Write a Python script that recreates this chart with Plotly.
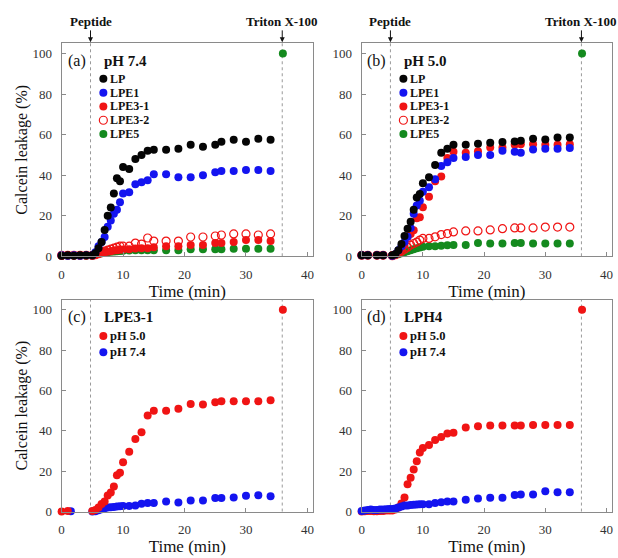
import plotly.graph_objects as go
from plotly.subplots import make_subplots

W, H = 618, 558
FONT = "Liberation Serif"

# ---------------- data ----------------
t_main = [5, 5.5, 6, 6.5, 7, 7.5, 8, 8.5, 9, 9.5, 10, 11, 12, 13, 14, 15,
          17, 19, 21, 23, 25, 26, 28, 30, 32, 34]
t_pre_a = [0, 1, 2, 3, 4]
t_pre_b = [0, 1, 2.5, 3.5]
t_pre_d = [0, 0.5, 1, 1.5, 2, 2.5, 3, 3.5, 4, 4.5]
t_triton = 36
triton_value = 100

# (a) pH 7.4
a_LP_pre = [0.3, 0.5, 0.3, 0.5, 0.5]
a_LP = [0.5, 1.5, 4, 7, 13, 20, 24, 31, 38.5, 37, 44, 43, 48, 50, 52, 52.5,
        52.5, 53, 55, 54, 55, 56.5, 57.5, 56.5, 58, 57.5]
a_LPE1_pre = [0.5, 0.3, 0.5, 0.3, 0.5]
a_LPE1 = [0.5, 2, 5, 7, 9.5, 14.5, 17.7, 21, 23, 26.6, 31, 31.6, 35.5, 36.5, 37.5, 40.5,
          40.5, 39, 39, 40, 41.5, 42, 42, 42.5, 42.5, 42]
a_LPE31_pre = [0.3, 0.5, 0.5, 0.3, 0.5]
a_LPE31 = [0.3, 0.5, 1, 1.5, 2, 2.2, 2.5, 2.8, 3, 3.2, 3.4, 3.5, 3.8, 4, 4, 4.5,
           5, 5, 5.5, 5.5, 6.5, 6.5, 7, 8, 8, 7.5]
a_LPE32_pre = [0.5, 0.5, 0.5, 0.5, 0.5]
a_LPE32 = [0.5, 1, 1.5, 2, 2.5, 3, 3.5, 4, 4.5, 5, 5, 5, 6.5, 6, 9, 7.5,
           7.5, 7.5, 9.5, 9.5, 10, 10.5, 11, 11, 10.5, 11]
a_LPE5_pre = [0.3, 0.3, 0.5, 0.3, 0.3]
a_LPE5 = [0.3, 0.8, 1.2, 1.5, 1.8, 2, 2.2, 2.3, 2.5, 2.6, 2.7, 2.8, 3, 3, 3, 3,
          3, 3, 3.5, 3.5, 3.5, 3.5, 3.7, 3.7, 3.7, 3.7]

# (b) pH 5.0
b_pre = [0.5, 0.5, 0.5, 0.5]
b_LP = [0.5, 1, 3, 6, 10, 13.6, 17, 23, 29, 30.7, 36, 39, 45, 51, 53, 55,
        55, 55.5, 56, 56.3, 56.6, 57, 58, 57.6, 58.6, 58.6]
b_LPE1 = [0.3, 1, 3, 5, 7, 9.6, 14, 21, 25, 27.4, 31.8, 34, 38, 44.5, 46.4, 48.5,
          49, 50, 50, 52, 51.5, 51, 52.6, 53, 53, 53.4]
b_LPE31 = [0.3, 0.8, 2, 3.5, 5.5, 9.6, 11, 12.8, 18.8, 19.3, 24.2, 29.4, 37, 39.3, 48.5, 51.5,
           51, 51.8, 53.7, 53.7, 55, 55.3, 55.3, 55, 55, 55.3]
b_LPE32 = [0.3, 0.8, 1.5, 2.5, 3.5, 4.5, 5.5, 6.3, 7, 8, 8.8, 8.8, 9.6, 10.7, 11.2, 12,
           12.5, 12.5, 13, 13.6, 14, 14, 14, 14.4, 14.4, 14.4]
b_LPE5 = [0.3, 0.6, 1, 1.5, 2, 2.5, 3, 3.5, 4, 4.3, 4.7, 5, 5, 5.2, 5.4, 5.5,
          5.5, 6.6, 6.3, 6.3, 6.6, 6.5, 6.3, 6.3, 6.3, 6.3]

# (c) LPE3-1
c_pre_t_50 = [0, 1]
c_pH50_pre = [0, 0.3]
c_pre_t_74 = [1.5]
c_pH74_pre = [0.2]
c_pH50 = [0.3, 0.8, 2, 3.7, 5, 8, 9.4, 12.4, 18, 19.2, 24.4, 29.6, 36, 39.3, 47.6, 50,
          49.9, 51, 53.3, 53, 54.1, 54.6, 54.6, 54.6, 54.6, 55.1]
c_pH74 = [0, 0.2, 0.6, 1.2, 1.6, 2, 2.1, 2.3, 2.5, 2.6, 2.7, 2.8, 3, 3.9, 4.2, 4.2,
          5, 4.5, 5.5, 5.5, 6.7, 6.7, 7, 7.8, 8.1, 7.6]

# (d) LPH4
d_pH50_pre = [0, 0.2, 0.3, 0.3, 0.2, 0.2, 0.3, 0.3, 0.5, 0.5]
d_pH74_pre = [0.3, 0.5, 0.8, 1, 0.8, 0.8, 1, 1, 1.2, 1.3]
d_pH50 = [0.5, 1, 2, 4, 7, 13.5, 16.7, 20.8, 24.9, 29.3, 31.5, 33, 35.4, 37, 38.7, 39,
          41.6, 42.3, 42.6, 42.6, 42.6, 42.6, 42.9, 42.9, 42.9, 42.9]
d_pH74 = [1.3, 1.5, 2, 2.5, 3, 3, 3.2, 3.4, 3.5, 3.6, 3.6, 3.6, 4.2, 4.6, 5, 5,
          5.8, 6.5, 6.8, 6.8, 8.2, 8.5, 8.5, 10, 9.6, 9.6]

series_names_ab = ["LP", "LPE1", "LPE3-1", "LPE3-2", "LPE5"]
series_names_cd = ["pH 5.0", "pH 7.4"]
panel_labels = ["(a)", "(b)", "(c)", "(d)"]
panel_titles = ["pH 7.4", "pH 5.0", "LPE3-1", "LPH4"]
x_ticks = [0, 10, 20, 30, 40]
y_ticks = [0, 20, 40, 60, 80, 100]
peptide_time = 4.7

# ---------------- styles ----------------
BLACK = "#050505"
BLUE = "#1414f0"
RED = "#f01414"
GREEN = "#148a1e"
styles_ab = [(BLACK, "circle"), (BLUE, "circle"), (RED, "circle"),
             (RED, "circle-open"), (GREEN, "circle")]
styles_cd = [(RED, "circle"), (BLUE, "circle")]

fig = make_subplots(rows=2, cols=2)


def add(x, y, color, symbol, row, col):
    fig.add_trace(go.Scatter(
        x=x, y=y, mode="markers", showlegend=False, cliponaxis=False,
        marker=dict(size=8, color=color, symbol=symbol,
                    line=dict(width=1.2 if symbol == "circle-open" else 0, color=color))),
        row=row, col=col)


# (a)
a_sets = [(a_LP_pre, a_LP), (a_LPE1_pre, a_LPE1), (a_LPE31_pre, a_LPE31),
          (a_LPE32_pre, a_LPE32), (a_LPE5_pre, a_LPE5)]
order = [4, 3, 2, 1, 0]
for i in order:
    pre, main = a_sets[i]
    c, s = styles_ab[i]
    add(t_pre_a + t_main, pre + main, c, s, 1, 1)
add([t_triton], [triton_value], GREEN, "circle", 1, 1)

# (b)
b_sets = [b_LP, b_LPE1, b_LPE31, b_LPE32, b_LPE5]
for i in order:
    c, s = styles_ab[i]
    add(t_pre_b + t_main, b_pre + b_sets[i], c, s, 1, 2)
add([t_triton], [triton_value], GREEN, "circle", 1, 2)

# (c)
add(c_pre_t_74 + t_main, c_pH74_pre + c_pH74, BLUE, "circle", 2, 1)
add(c_pre_t_50 + t_main, c_pH50_pre + c_pH50, RED, "circle", 2, 1)
add([t_triton], [triton_value], RED, "circle", 2, 1)

# (d)
add(t_pre_d + t_main, d_pH50_pre + d_pH50, RED, "circle", 2, 2)
add(t_pre_d + t_main, d_pH74_pre + d_pH74, BLUE, "circle", 2, 2)
add([t_triton], [triton_value], RED, "circle", 2, 2)

# ---------------- layout ----------------
def px(x):
    return x / W


def py(y):
    return 1 - y / H


boxes = {  # left, right, top, bottom (px)
    1: (59, 312, 44, 260),
    2: (361, 613, 44, 260),
    3: (59, 312, 304, 519),
    4: (361, 613, 304, 519),
}

axis_common = dict(showgrid=False, zeroline=False, showline=True, mirror=True,
                   linecolor="#8a8a8a", linewidth=1, ticks="inside", ticklen=4,
                   tickcolor="#8a8a8a", tickfont=dict(family=FONT, size=13, color="#333"))

for k in range(1, 5):
    l, r, t, b = boxes[k]
    xa = "xaxis" if k == 1 else f"xaxis{k}"
    ya = "yaxis" if k == 1 else f"yaxis{k}"
    fig.layout[xa].update(domain=[px(l), px(r)], range=[0, 40.9], tickvals=x_ticks,
                          ticklabelstandoff=6,
                          title=dict(text="Time (min)", standoff=0 if k <= 2 else 2,
                                     font=dict(family=FONT, size=17, color="#111")),
                          **axis_common)
    ytitle = dict(text="Calcein leakage (%)", standoff=0,
                  font=dict(family=FONT, size=16, color="#111")) if k in (1, 3) else None
    fig.layout[ya].update(domain=[py(b), py(t)], range=[0, 105], tickvals=y_ticks,
                          ticklabelstandoff=6, title=ytitle, **axis_common)
    xr = "x" if k == 1 else f"x{k}"
    yr = "y" if k == 1 else f"y{k}"
    for xv in (peptide_time, t_triton - 0.1):
        fig.add_shape(type="line", xref=xr, yref=f"{yr} domain", x0=xv, x1=xv, y0=0, y1=1,
                      line=dict(color="#9a9a9a", width=1, dash="dot"), layer="below")
    # arrows and labels on top panels
    if k in (1, 2):
        for xv, txt in ((peptide_time, "Peptide"), (t_triton - 0.1, "Triton X-100")):
            fig.add_annotation(xref=xr, yref=f"{yr} domain", x=xv, y=1.0, axref="pixel",
                               ayref="pixel", ax=0, ay=-22, text=f"<b>{txt}</b>",
                               showarrow=True, arrowhead=2, arrowsize=1, arrowwidth=1,
                               arrowcolor="#111", standoff=1,
                               font=dict(family=FONT, size=13, color="#111"))
    # panel label and title
    fig.add_annotation(xref="paper", yref="paper", x=px(l + 15), y=py(t + 18),
                       xanchor="center", yanchor="middle",
                       text=panel_labels[k - 1], showarrow=False,
                       font=dict(family=FONT, size=16, color="#111"))
    fig.add_annotation(xref="paper", yref="paper", x=px(l + 41), y=py(t + 18),
                       xanchor="left", yanchor="middle",
                       text=f"<b>{panel_titles[k - 1]}</b>", showarrow=False,
                       font=dict(family=FONT, size=15, color="#111"))
    # legend
    if k in (1, 2):
        names, sty, y0, dy, fs = series_names_ab, styles_ab, t + 36, 14, 12
    else:
        names, sty, y0, dy, fs = series_names_cd, styles_cd, t + 37, 16.3, 12.5
    for j, (nm, (c, s)) in enumerate(zip(names, sty)):
        yy = y0 + j * dy
        xm = l + 42
        fig.add_shape(type="circle", xref="paper", yref="paper",
                      xsizemode="pixel", ysizemode="pixel",
                      xanchor=px(xm), yanchor=py(yy), x0=-4, x1=4, y0=-4, y1=4,
                      fillcolor=c if s == "circle" else "white",
                      line=dict(color=c, width=1.2 if s != "circle" else 0))
        fig.add_annotation(xref="paper", yref="paper", x=px(xm + 5), y=py(yy),
                           xanchor="left", yanchor="middle",
                           text=f"<b>{nm}</b>", showarrow=False,
                           font=dict(family=FONT, size=fs, color="#111"))

fig.update_layout(width=W, height=H, margin=dict(l=0, r=0, t=0, b=0),
                  paper_bgcolor="white", plot_bgcolor="white", showlegend=False)

fig.write_html("out.html")
